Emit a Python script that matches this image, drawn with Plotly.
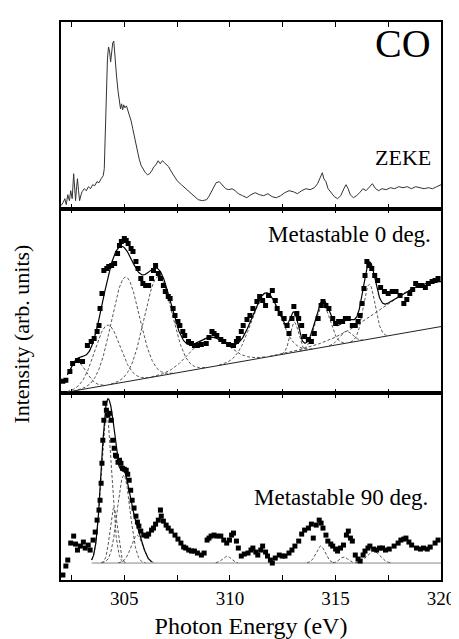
import numpy as np
import plotly.graph_objects as go

# ---------------- data ----------------
# ZEKE spectrum (top panel)
zeke_e = [302.0,302.1,302.18,302.25,302.32,302.4,302.46,302.53,302.6,302.65,302.69,302.74,302.78,302.83,302.88,302.95,
          303.0,303.1,303.2,303.3,303.4,303.5,303.6,303.7,303.8,303.9,304.0,304.05,304.1,304.15,304.2,304.25,304.3,304.35,
          304.4,304.45,304.5,304.55,304.63,304.7,304.77,304.82,304.87,304.92,304.97,305.03,305.1,305.18,305.25,305.32,305.4,
          305.5,305.6,305.7,305.8,305.88,306.0,306.1,306.2,306.3,306.4,306.5,306.6,306.7,306.8,306.9,307.0,307.1,307.2,307.35,
          307.5,307.7,307.9,308.1,308.3,308.5,308.7,308.9,309.0,309.2,309.35,309.5,309.65,309.8,309.95,310.1,310.25,310.4,
          310.6,310.8,311.0,311.2,311.4,311.6,311.8,312.0,312.2,312.4,312.6,312.8,313.0,313.2,313.4,313.6,313.8,314.0,314.15,
          314.3,314.38,314.45,314.55,314.65,314.8,314.95,315.1,315.25,315.4,315.5,315.6,315.7,315.85,316.0,316.15,316.3,
          316.45,316.6,316.75,316.9,317.05,317.2,317.4,317.6,317.8,318.0,318.2,318.4,318.6,318.8,319.0,319.2,319.4,319.6,
          319.8,320.0]
zeke_i = [3,6,10,4,14,8,18,10,35,20,8,22,30,18,8,14,
          17,20,18,22,20,24,23,27,26,30,33,40,75,120,150,162,158,147,
          158,166,168,150,133,118,107,100,105,99,104,101,103,98,92,88,80,
          70,58,50,43,40,36,34,35,38,42,44,48,45,48,46,44,42,38,33,
          28,24,20,16,12,9,8,9,12,20,26,27,24,20,19,20,18,15,
          13,11,14,16,14,13,15,12,11,13,16,18,17,15,18,20,19,21,25,
          33,36,30,27,20,16,12,10,13,20,24,20,14,11,13,16,20,
          18,22,25,20,18,20,19,21,20,22,21,22,20,22,21,20,21,20,
          22,24]

# Metastable 0 deg. (middle panel) data points
m0_e = [302.09,302.23,302.42,302.55,302.78,303.02,303.25,303.43,303.57,303.71,303.8,303.85,303.94,304.03,304.17,304.26,
        304.4,304.54,304.68,304.77,304.86,305.0,305.09,305.18,305.32,305.41,305.55,305.65,305.78,305.88,306.01,306.15,
        306.29,306.38,306.48,306.61,306.71,306.85,306.94,307.08,307.17,307.31,307.4,307.54,307.63,307.77,307.86,308.04,
        308.18,308.32,308.46,308.65,308.88,309.01,309.15,309.25,309.38,309.57,309.71,309.94,310.17,310.31,310.4,310.54,
        310.63,310.81,310.95,311.09,311.28,311.41,311.55,311.69,311.83,312.01,312.15,312.24,312.38,312.57,312.71,312.8,
        312.94,313.03,313.17,313.26,313.4,313.54,313.72,313.86,314.0,314.18,314.32,314.41,314.55,314.69,314.87,315.01,
        315.15,315.34,315.47,315.61,315.8,315.94,316.07,316.17,316.26,316.35,316.4,316.49,316.58,316.72,316.86,317.0,
        317.14,317.32,317.5,317.69,317.87,318.06,318.24,318.38,318.52,318.66,318.8,318.94,319.07,319.26,319.4,319.58,
        319.72,319.86]
m0_i = [12,13,22,30,33,32,48,52,55,62,68,85,100,123,125,127,
        128,130,140,148,152,155,153,150,145,142,132,125,115,110,108,108,
        115,123,128,120,115,108,102,97,95,85,78,72,68,62,58,52,
        50,48,48,49,50,56,62,60,58,54,52,49,48,52,55,62,
        68,74,78,85,92,97,93,88,98,103,93,85,80,75,68,60,
        75,87,80,75,68,57,54,52,60,75,88,92,88,85,75,70,
        72,72,75,75,68,68,72,78,90,105,118,132,128,125,118,113,
        106,102,100,102,102,98,90,94,100,104,110,108,108,106,110,112,
        113,115]

# Metastable 0 deg. fit: linear background + Gaussian components
m0_bg_e = [302.3, 320.0]
m0_bg_i = [1.3, 66.9]
m0_centers = [302.75, 304.2, 305.05, 306.6, 309.0, 311.7, 313.05, 314.4, 315.5, 316.6, 319.5]
m0_amps    = [28, 60, 105, 100, 30, 64, 30, 42, 12, 55, 46]
m0_sigmas  = [0.45, 0.6, 0.66, 0.66, 0.9, 0.68, 0.2, 0.35, 0.3, 0.28, 2.4]

# Metastable 90 deg. (bottom panel) data points
m90_e = [302.09,302.23,302.32,302.46,302.6,302.69,302.78,302.92,303.06,303.15,303.29,303.38,303.52,303.62,303.71,303.8,
         303.85,303.9,303.94,303.98,304.03,304.08,304.15,304.22,304.31,304.38,304.45,304.52,304.58,304.63,304.7,304.77,
         304.84,304.91,305.0,305.09,305.16,305.23,305.3,305.37,305.46,305.55,305.62,305.69,305.78,305.92,306.06,306.15,
         306.29,306.38,306.48,306.61,306.71,306.75,306.85,306.98,307.08,307.22,307.4,307.54,307.68,307.81,307.91,308.05,
         308.18,308.32,308.46,308.65,308.78,308.92,309.01,309.11,309.25,309.38,309.57,309.71,309.85,309.98,310.08,310.17,
         310.31,310.4,310.54,310.68,310.86,311.0,311.09,311.23,311.32,311.46,311.55,311.69,311.78,311.92,312.01,312.15,
         312.34,312.48,312.61,312.8,312.94,313.08,313.26,313.4,313.54,313.72,313.86,313.95,314.09,314.23,314.32,314.41,
         314.55,314.64,314.78,314.87,315.01,315.1,315.24,315.38,315.52,315.61,315.71,315.8,315.94,316.07,316.17,316.31,
         316.4,316.54,316.63,316.81,316.95,317.09,317.23,317.37,317.55,317.78,317.97,318.1,318.24,318.34,318.48,318.61,
         318.84,319.03,319.17,319.35,319.49,319.72,319.86]
m90_i = [5,14,20,37,44,36,30,34,38,32,35,30,40,48,60,70,
         80,97,117,140,160,177,170,165,167,160,140,132,125,124,118,120,
         117,112,111,110,106,100,90,80,72,64,58,54,49,45,44,46,
         50,52,56,60,70,64,59,55,52,49,45,41,37,33,32,30,
         29,29,27,25,27,40,42,44,45,44,44,40,37,40,45,47,
         39,32,24,26,27,30,32,28,25,30,34,28,24,20,17,22,
         25,24,24,27,30,34,39,46,50,52,56,42,55,60,57,52,
         45,39,36,34,31,29,32,35,45,49,42,39,25,21,19,25,
         29,32,34,31,30,32,32,30,31,34,37,40,41,42,38,35,
         32,31,32,31,33,37,40]

# Metastable 90 deg. fit: flat background + Gaussian components
m90_bg = 17.0
m90_bg_range = [303.45, 320.0]
m90_fit_range = [303.45, 306.3]
m90_centers = [304.15, 304.5, 304.97, 305.6, 309.85, 314.3, 315.4, 316.8]
m90_amps    = [150, 55, 88, 28, 7, 17, 6, 12]
m90_sigmas  = [0.25, 0.18, 0.3, 0.28, 0.2, 0.22, 0.2, 0.3]

x_tickvals = [302.5, 305, 307.5, 310, 312.5, 315, 317.5, 320]
x_ticktext = ["", "305", "", "310", "", "315", "", "320"]

# ---------------- figure ----------------
FONT = "Liberation Serif, Times New Roman, DejaVu Serif, serif"
DASH = "3px,2px"
fig = go.Figure()

# top panel
fig.add_trace(go.Scatter(x=zeke_e, y=zeke_i, mode="lines", line=dict(color="#333333", width=1),
                         xaxis="x3", yaxis="y3", showlegend=False))

# middle panel
g0 = np.linspace(m0_bg_e[0], m0_bg_e[1], 900)
bg0 = np.interp(g0, m0_bg_e, m0_bg_i)
fit0 = bg0.copy()
for c, a, s in zip(m0_centers, m0_amps, m0_sigmas):
    comp = a * np.exp(-(g0 - c) ** 2 / (2 * s * s))
    fit0 = fit0 + comp
    mask = comp > 0.3
    fig.add_trace(go.Scatter(x=g0[mask], y=(bg0 + comp)[mask], mode="lines",
                             line=dict(color="#555555", width=1, dash=DASH),
                             xaxis="x2", yaxis="y2", showlegend=False))
fig.add_trace(go.Scatter(x=m0_bg_e, y=m0_bg_i, mode="lines", line=dict(color="#222222", width=1),
                         xaxis="x2", yaxis="y2", showlegend=False))
fig.add_trace(go.Scatter(x=g0, y=fit0, mode="lines", line=dict(color="black", width=1.2),
                         xaxis="x2", yaxis="y2", showlegend=False))
fig.add_trace(go.Scatter(x=m0_e, y=m0_i, mode="markers",
                         marker=dict(symbol="square", size=5, color="black"),
                         xaxis="x2", yaxis="y2", showlegend=False))

# bottom panel
fig.add_trace(go.Scatter(x=m90_bg_range, y=[m90_bg, m90_bg], mode="lines",
                         line=dict(color="#888888", width=1),
                         xaxis="x", yaxis="y", showlegend=False))
g1 = np.linspace(m90_bg_range[0], m90_bg_range[1], 1200)
fit1 = np.full_like(g1, m90_bg)
for c, a, s in zip(m90_centers, m90_amps, m90_sigmas):
    comp = a * np.exp(-(g1 - c) ** 2 / (2 * s * s))
    fit1 = fit1 + comp
    mask = comp > 0.2
    fig.add_trace(go.Scatter(x=g1[mask], y=(m90_bg + comp)[mask], mode="lines",
                             line=dict(color="#555555", width=1, dash=DASH),
                             xaxis="x", yaxis="y", showlegend=False))
fm = (g1 >= m90_fit_range[0]) & (g1 <= m90_fit_range[1])
fig.add_trace(go.Scatter(x=g1[fm], y=fit1[fm], mode="lines", line=dict(color="black", width=1.2),
                         xaxis="x", yaxis="y", showlegend=False))
fig.add_trace(go.Scatter(x=m90_e, y=m90_i, mode="markers",
                         marker=dict(symbol="square", size=5, color="black"),
                         xaxis="x", yaxis="y", showlegend=False))

xcommon = dict(range=[302, 320], tickmode="array", tickvals=x_tickvals, ticks="inside", ticklen=5,
               tickwidth=1.2, tickcolor="black", showline=True, linecolor="black", linewidth=1.5,
               mirror="ticks", showgrid=False, zeroline=False)
ycommon = dict(showline=True, linecolor="black", linewidth=1.5, mirror=True, ticks="",
               showticklabels=False, showgrid=False, zeroline=False, fixedrange=True)

d1, d2 = 187 / 559, 372 / 559
fig.update_layout(
    width=459, height=639,
    margin=dict(l=53, r=18, t=13, b=67),
    paper_bgcolor="white", plot_bgcolor="white",
    font=dict(family=FONT, color="black", size=18),
    xaxis=dict(**xcommon, anchor="y", ticktext=x_ticktext, showticklabels=True,
               tickfont=dict(family=FONT, size=19), ticklabelstandoff=0,
               title=dict(text="Photon Energy (eV)", font=dict(family=FONT, size=24), standoff=10)),
    xaxis2=dict(**xcommon, anchor="y2", matches="x", showticklabels=False),
    xaxis3=dict(**xcommon, anchor="y3", matches="x", showticklabels=False),
    yaxis=dict(**ycommon, domain=[0, d1], range=[0, 187]),
    yaxis2=dict(**ycommon, domain=[d1, d2], range=[0, 185]),
    yaxis3=dict(**ycommon, domain=[d2, 1], range=[0, 187]),
    annotations=[
        dict(text="CO", x=319.6, y=165, xref="x3", yref="y3", xanchor="right", yanchor="middle",
             showarrow=False, font=dict(family=FONT, size=40)),
        dict(text="ZEKE", x=319.6, y=51, xref="x3", yref="y3", xanchor="right", yanchor="middle",
             showarrow=False, font=dict(family=FONT, size=22)),
        dict(text="Metastable 0 deg.", x=319.6, y=159, xref="x2", yref="y2", xanchor="right",
             yanchor="middle", showarrow=False, font=dict(family=FONT, size=23)),
        dict(text="Metastable 90 deg.", x=319.5, y=83, xref="x", yref="y", xanchor="right",
             yanchor="middle", showarrow=False, font=dict(family=FONT, size=23)),
        dict(text="Intensity (arb. units)", x=-0.105, y=0.44, xref="paper", yref="paper",
             xanchor="center", yanchor="middle", textangle=-90, showarrow=False,
             font=dict(family=FONT, size=22)),
    ],
)

fig.write_html("out.html")
